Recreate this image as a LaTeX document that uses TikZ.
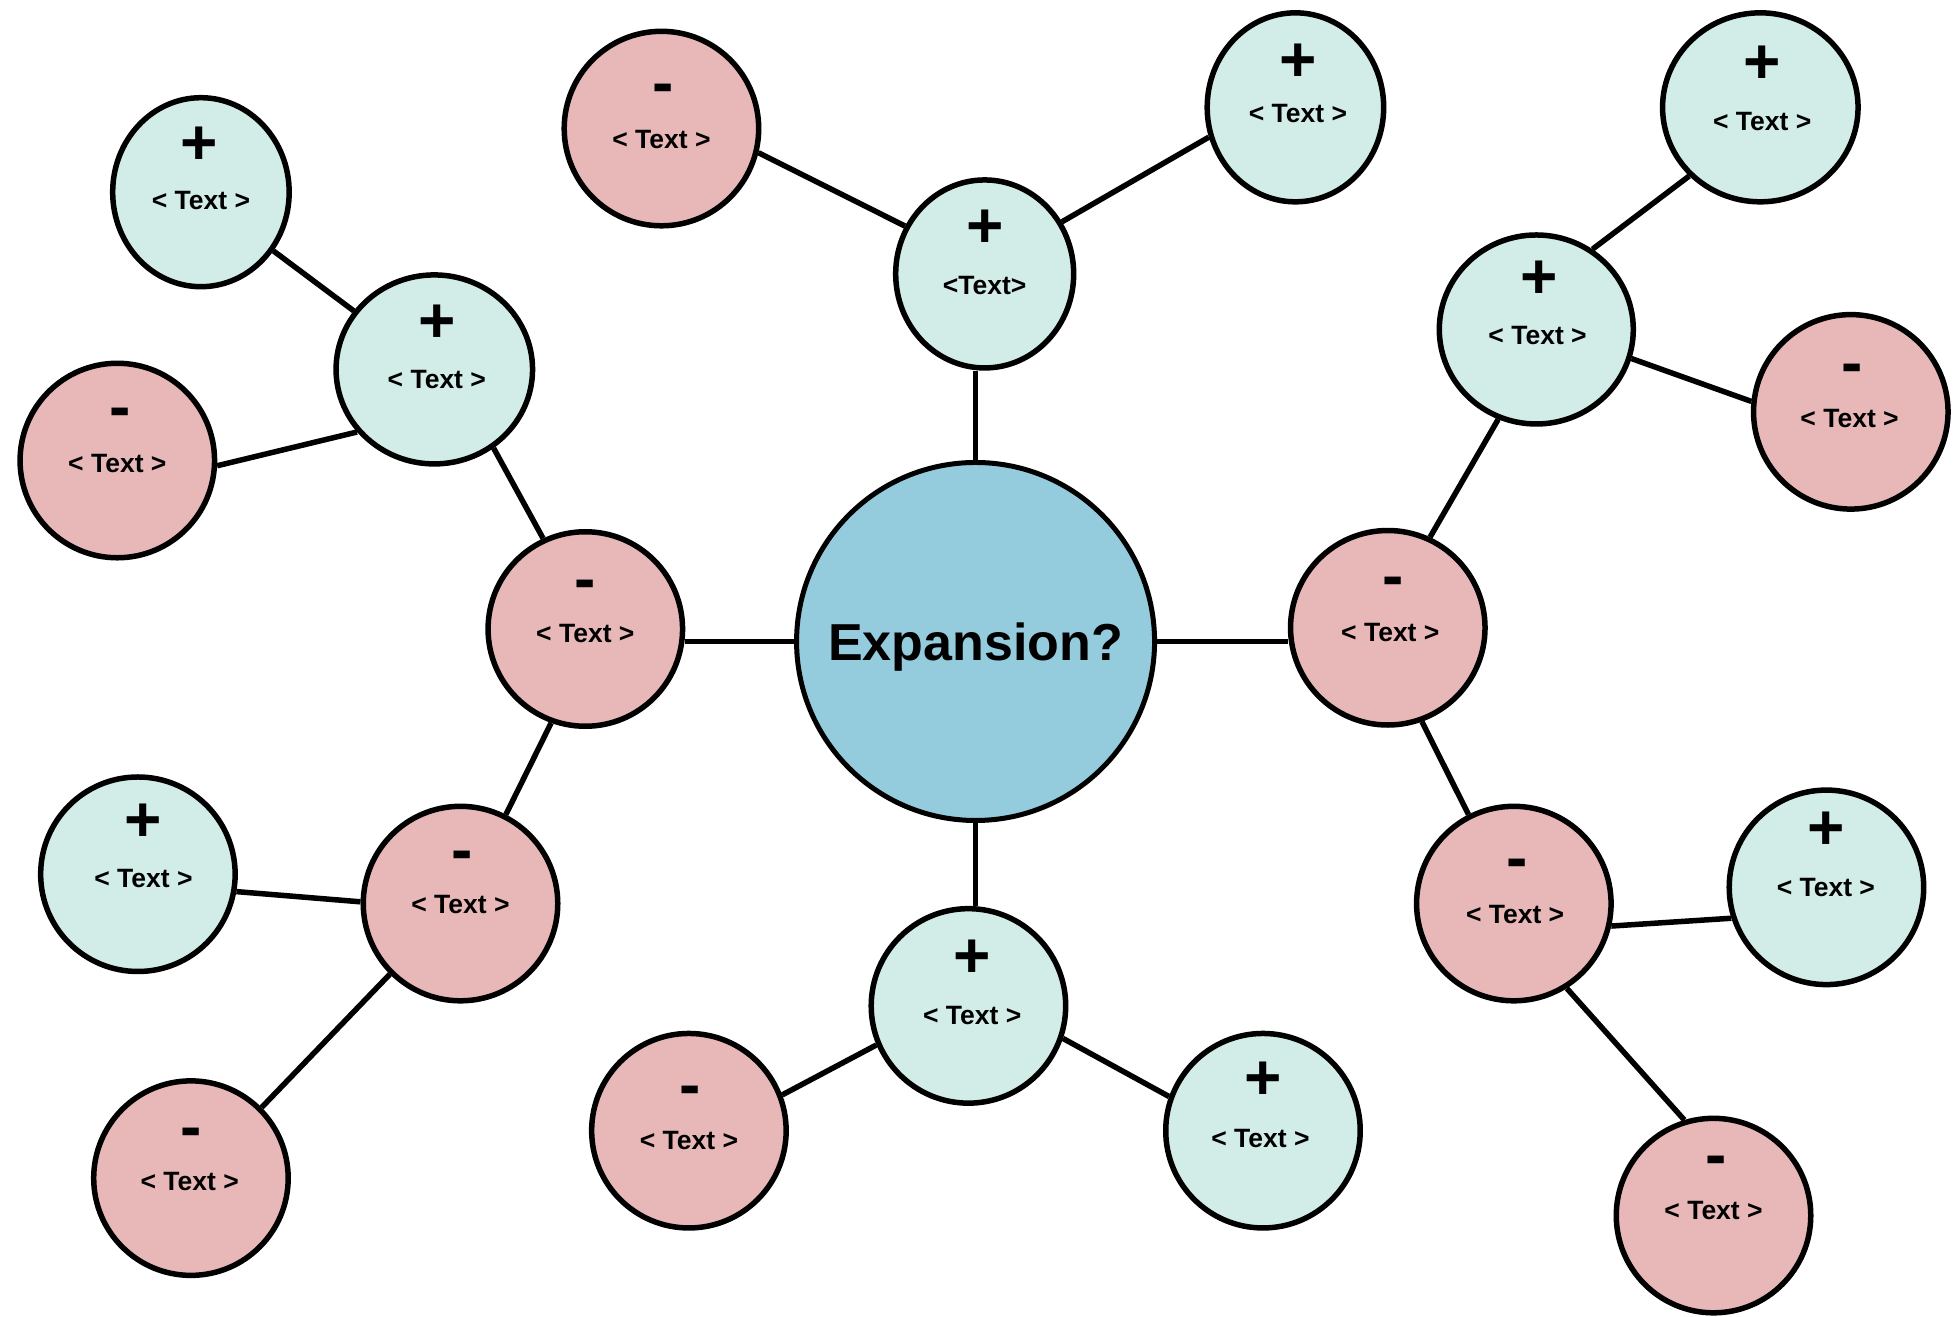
\documentclass[tikz,border=0pt]{standalone}
\usepackage{fontspec}
\setmainfont{Liberation Sans}
\usetikzlibrary{shapes.geometric,backgrounds}
\definecolor{tealc}{RGB}{210,237,232}
\definecolor{pinkc}{RGB}{232,184,184}
\definecolor{bluec}{RGB}{148,203,221}
\begin{document}
\begin{tikzpicture}[x=1.248pt,y=-1.248pt,
  bub/.style={ellipse,draw,line width=5.5pt,inner sep=0pt,minimum width=194.5pt,minimum height=194.5pt},
  pinkb/.style={bub,fill=pinkc},
  tealb/.style={bub,fill=tealc},
  plus/.style={font=\fontsize{64}{64}\selectfont\bfseries,inner sep=0pt},
  minus/.style={font=\fontsize{64}{64}\selectfont\bfseries,inner sep=0pt,yshift=-6pt},
  lbl/.style={font=\fontsize{26.5}{26.5}\selectfont\bfseries,inner sep=0pt},
  con/.style={line width=5.5pt}]
\useasboundingbox (0,0) rectangle (1568.1,1054.5);

\node[circle,draw,line width=5pt,fill=bluec,inner sep=0pt,minimum size=358pt,text depth=0pt,font=\fontsize{52}{52}\selectfont\bfseries] (c) at (781.7,514) {Expansion?};

\node[tealb,minimum width=178pt,minimum height=188pt] (n1) at (789,219.5) {};
\node[pinkb] (n2) at (530,103) {};
\node[tealb,minimum width=176.5pt,minimum height=189pt] (n3) at (1038,86) {};
\node[pinkb] (n4) at (469,504) {};
\node[tealb,minimum width=196.5pt,minimum height=189pt] (n5) at (348,296) {};
\node[tealb,minimum width=176.5pt,minimum height=189pt] (n6) at (161,154) {};
\node[pinkb] (n7) at (94,369) {};
\node[pinkb] (n8) at (369,724) {};
\node[tealb] (n9) at (110.5,700.5) {};
\node[pinkb] (n10) at (153,944) {};
\node[tealb] (n11) at (776,806) {};
\node[pinkb] (n12) at (552,906) {};
\node[tealb] (n13) at (1012,906) {};
\node[pinkb] (n14) at (1112,503) {};
\node[tealb,minimum width=194pt,minimum height=189pt] (n15) at (1231,264) {};
\node[tealb,minimum width=195.5pt,minimum height=189pt] (n16) at (1410.5,86) {};
\node[pinkb] (n17) at (1483,330) {};
\node[pinkb] (n18) at (1213,724) {};
\node[tealb] (n19) at (1463.5,711) {};
\node[pinkb] (n20) at (1373,974) {};

% signs and labels
\node[plus] (s1) at (789,183) {+};   \node[lbl] (t1) at (789,229) {<Text>};
\node[minus] (s2) at (531,71) {-};   \node[lbl] (t2) at (530,112) {< Text >};
\node[plus] (s3) at (1040,50) {+};   \node[lbl] (t3) at (1040,91) {< Text >};
\node[minus] (s4) at (469,468) {-};  \node[lbl] (t4) at (469,508) {< Text >};
\node[plus] (s5) at (350,259) {+};   \node[lbl] (t5) at (350,304) {< Text >};
\node[plus] (s6) at (160,117) {+};   \node[lbl] (t6) at (161,161) {< Text >};
\node[minus] (s7) at (96,330) {-};   \node[lbl] (t7) at (94,371) {< Text >};
\node[minus] (s8) at (370,685) {-};  \node[lbl] (t8) at (369,725) {< Text >};
\node[plus] (s9) at (115,659) {+};   \node[lbl] (t9) at (115,704) {< Text >};
\node[minus] (s10) at (153,907) {-}; \node[lbl] (t10) at (152,947) {< Text >};
\node[plus] (s11) at (779,768) {+};  \node[lbl] (t11) at (779,814) {< Text >};
\node[minus] (s12) at (553,874) {-}; \node[lbl] (t12) at (552,914) {< Text >};
\node[plus] (s13) at (1012,866) {+}; \node[lbl] (t13) at (1010,912) {< Text >};
\node[minus] (s14) at (1116,466) {-};\node[lbl] (t14) at (1114,507) {< Text >};
\node[plus] (s15) at (1233,224) {+}; \node[lbl] (t15) at (1232,269) {< Text >};
\node[plus] (s16) at (1412,52) {+};  \node[lbl] (t16) at (1412,97) {< Text >};
\node[minus] (s17) at (1484,295) {-};\node[lbl] (t17) at (1482,335) {< Text >};
\node[minus] (s18) at (1216,692) {-};\node[lbl] (t18) at (1214,733) {< Text >};
\node[plus] (s19) at (1463,666) {+}; \node[lbl] (t19) at (1463,711) {< Text >};
\node[minus] (s20) at (1375,930) {-};\node[lbl] (t20) at (1373,970) {< Text >};

\begin{pgfonlayer}{background}
\draw[con] (c.north) -- (c.north |- n1.south);
\draw[con] (c.south) -- (c.south |- n11.north);
\draw[con] (c.west) -- (c.west -| n4.east);
\draw[con] (c.east) -- (c.east -| n14.west);
\draw[con] (n1.149) -- (n2.346);
\draw[con] (n1.34.5) -- (n3.199);
\draw[con] (n4.115) -- (n5.307);
\draw[con] (n5.144) -- (n6.321);
\draw[con] (n5.219) -- (n7.357);
\draw[con] (n4.250) -- (n8.63);
\draw[con] (n8.179) -- (n9.350);
\draw[con] (n8.225.5) -- (n10.45.5);
\draw[con] (n11.203.5) -- (n12.21);
\draw[con] (n11.341) -- (n13.160);
\draw[con] (n14.65) -- (n15.247);
\draw[con] (n15.55) -- (n16.224.5);
\draw[con] (n15.343) -- (n17.174);
\draw[con] (n14.290) -- (n18.117);
\draw[con] (n18.347) -- (n19.198);
\draw[con] (n18.302) -- (n20.107.5);
\end{pgfonlayer}
\end{tikzpicture}
\end{document}
